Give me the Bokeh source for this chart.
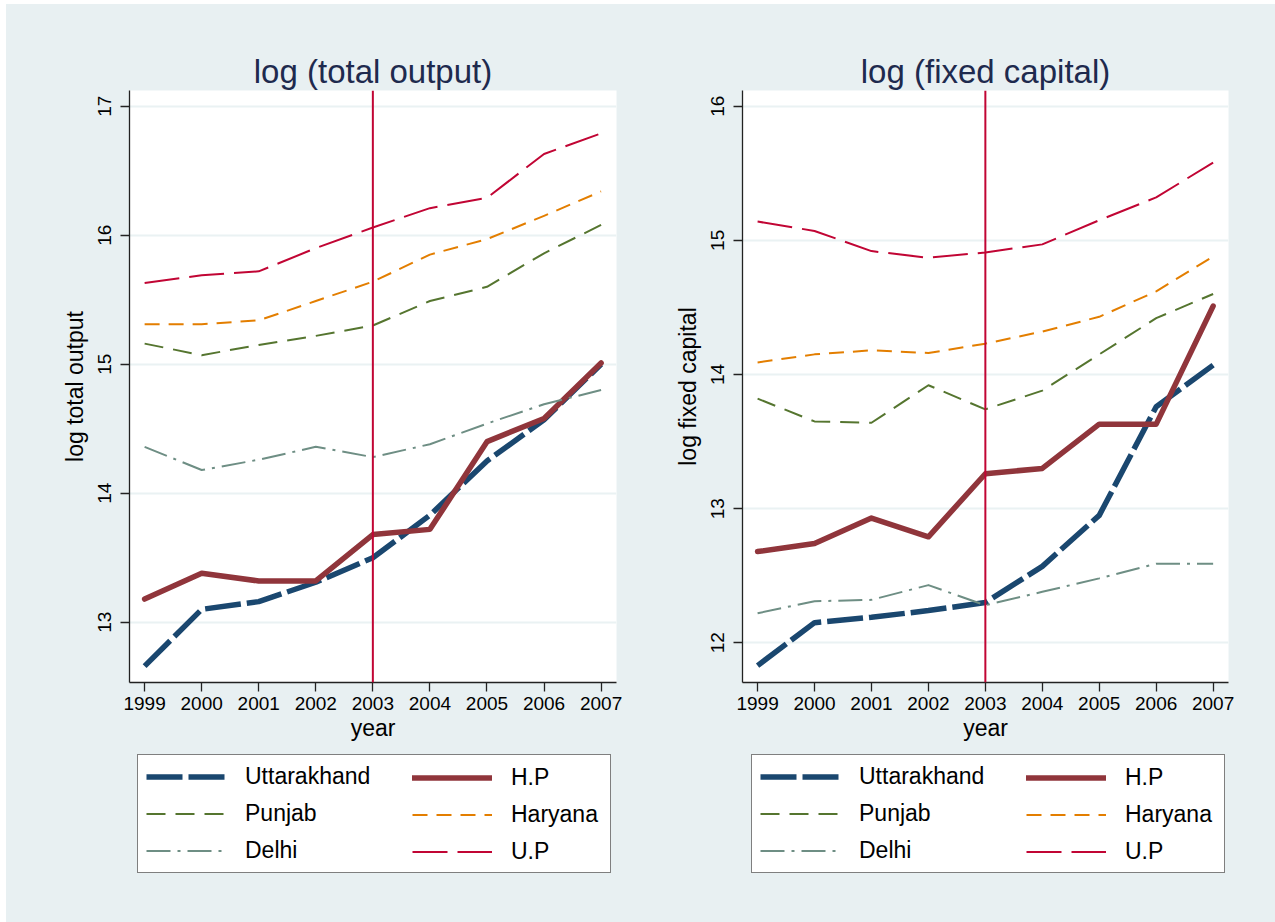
from bokeh.plotting import figure
from bokeh.layouts import row, column
from bokeh.models import Span, Legend, LegendItem, FixedTicker, Range1d
from bokeh.embed import file_html
from bokeh.resources import INLINE

# ---- data -----------------------------------------------------------------
years = [1999, 2000, 2001, 2002, 2003, 2004, 2005, 2006, 2007]
states = ["Uttarakhand", "H.P", "Punjab", "Haryana", "Delhi", "U.P"]

# log (total output)
output_uttarakhand = [12.66, 13.10, 13.16, 13.31, 13.50, 13.83, 14.25, 14.57, 15.00]
output_hp = [13.18, 13.38, 13.32, 13.32, 13.68, 13.72, 14.40, 14.58, 15.01]
output_punjab = [15.16, 15.07, 15.15, 15.22, 15.30, 15.49, 15.60, 15.86, 16.08]
output_haryana = [15.31, 15.31, 15.34, 15.49, 15.64, 15.85, 15.97, 16.15, 16.34]
output_delhi = [14.36, 14.18, 14.26, 14.36, 14.28, 14.38, 14.54, 14.69, 14.80]
output_up = [15.63, 15.69, 15.72, 15.90, 16.06, 16.21, 16.29, 16.63, 16.79]

# log (fixed capital)
capital_uttarakhand = [11.83, 12.15, 12.19, 12.24, 12.30, 12.57, 12.95, 13.76, 14.07]
capital_hp = [12.68, 12.74, 12.93, 12.79, 13.26, 13.30, 13.63, 13.63, 14.51]
capital_punjab = [13.82, 13.65, 13.64, 13.92, 13.74, 13.88, 14.15, 14.42, 14.60]
capital_haryana = [14.09, 14.15, 14.18, 14.16, 14.23, 14.32, 14.43, 14.62, 14.88]
capital_delhi = [12.22, 12.31, 12.32, 12.43, 12.28, 12.38, 12.48, 12.59, 12.59]
capital_up = [15.14, 15.07, 14.92, 14.87, 14.91, 14.97, 15.15, 15.32, 15.58]

output_ticks = [13, 14, 15, 16, 17]
capital_ticks = [12, 13, 14, 15, 16]
policy_year = 2003

# ---- styling --------------------------------------------------------------
FONT = "Liberation Sans"
BG = "#E8F0F2"
GRID = "#EAF2F3"

styles = {
    "Uttarakhand": dict(color="#1A476F", width=5.5, dash="36 6", cap="butt"),
    "H.P": dict(color="#90353B", width=5.5, dash="solid", cap="round"),
    "Punjab": dict(color="#55752F", width=2, dash="19 10", cap="butt"),
    "Haryana": dict(color="#E37E00", width=2, dash="15 9", cap="butt"),
    "Delhi": dict(color="#6E8E84", width=2, dash="24 7 3 7", cap="butt"),
    "U.P": dict(color="#C10534", width=2, dash="35 10", cap="butt"),
}

PLOT_H = 86 + 592 + 70      # figure height of each line chart
LEGEND_H = 918 - PLOT_H     # height of the strip holding the key
KEY_W = 472                 # outer width of the key box
KEY_COL2 = 275              # offset of the second key column inside the box
KEY_PAD = 8                 # inner padding of the key box
KEY_BOTTOM = 49             # gap between key box and strip bottom


def add_line(p, name, xs, ys):
    st = styles[name]
    return p.line(xs, ys, line_color=st["color"], line_width=st["width"],
                  line_dash=st["dash"], line_cap=st["cap"], line_join="round")


def make_panel(title, ylabel, series, y_range, y_ticks, border_left, border_right, frame_w):
    p = figure(
        frame_width=frame_w, frame_height=592,
        x_range=Range1d(1998.735, 2007.27), y_range=Range1d(*y_range),
        min_border_left=border_left, min_border_right=border_right,
        min_border_top=86, min_border_bottom=70,
        output_backend="svg", toolbar_location=None,
    )
    p.background_fill_color = "white"
    p.border_fill_color = BG
    p.outline_line_color = None

    p.title.text = title
    p.title.text_font = FONT
    p.title.text_font_size = "33px"
    p.title.text_font_style = "normal"
    p.title.text_color = "#1E2A4E"
    p.title.align = "center"
    p.title.standoff = 2

    for ax in (p.xaxis[0], p.yaxis[0]):
        ax.axis_line_color = "#222222"
        ax.axis_line_width = 1.3
        ax.major_tick_line_color = "#222222"
        ax.major_tick_line_width = 1.3
        ax.major_tick_in = 0
        ax.major_tick_out = 9
        ax.minor_tick_line_color = None
        ax.major_label_text_font = FONT
        ax.major_label_text_font_size = "19px"
        ax.major_label_text_color = "black"
        ax.axis_label_text_font = FONT
        ax.axis_label_text_font_size = "23px"
        ax.axis_label_text_font_style = "normal"
        ax.axis_label_text_color = "black"

    p.xaxis.ticker = FixedTicker(ticks=years)
    p.xaxis.axis_label = "year"
    p.xaxis.major_label_standoff = 5
    p.xaxis.axis_label_standoff = 2
    p.yaxis.ticker = FixedTicker(ticks=y_ticks)
    p.yaxis.axis_label = ylabel
    p.yaxis.major_label_orientation = "vertical"
    p.yaxis.major_label_standoff = 9
    p.yaxis.axis_label_standoff = 8

    p.xgrid.visible = False
    p.ygrid.grid_line_color = GRID
    p.ygrid.grid_line_width = 2

    for name, vals in zip(states, series):
        add_line(p, name, years, vals)

    p.add_layout(Span(location=policy_year, dimension="height",
                      line_color="#C10534", line_width=2))
    return p


def key_column(keys, names, x, y, boxed):
    opts = dict(
        items=[LegendItem(label=n, renderers=[keys[n]]) for n in names],
        location=(x, y),
        glyph_width=80, glyph_height=27, label_height=27,
        label_standoff=19, spacing=10, padding=KEY_PAD, margin=0,
        label_text_font=FONT, label_text_font_size="23px",
        label_text_color="black",
    )
    if boxed:
        # first column also draws the white box spanning both columns
        opts.update(label_width=KEY_W - 2 * KEY_PAD - 80 - 19,
                    border_line_color="black", border_line_width=1.5,
                    background_fill_color="white", background_fill_alpha=1.0)
    else:
        # a borderless legend gets no padding, so its offset includes it
        opts.update(border_line_color=None, background_fill_alpha=0.0)
    return Legend(**opts)


def make_key(fig_width, series, box_x):
    # strip under a chart carrying the two-column key; its lines reuse the
    # chart's series but fall outside this strip's ranges, so only the key
    # samples are visible
    lg = figure(
        width=fig_width, height=LEGEND_H,
        x_range=Range1d(0, 1), y_range=Range1d(0, 1),
        x_axis_location=None, y_axis_location=None,
        min_border=0, output_backend="svg", toolbar_location=None,
    )
    lg.background_fill_color = BG
    lg.border_fill_color = BG
    lg.outline_line_color = None
    lg.grid.visible = False
    keys = {name: add_line(lg, name, years, vals) for name, vals in zip(states, series)}
    lg.add_layout(key_column(keys, states[0::2], box_x, KEY_BOTTOM, True))
    lg.add_layout(key_column(keys, states[1::2], box_x + KEY_COL2,
                             KEY_BOTTOM + KEY_PAD, False))
    return lg


output_series = [output_uttarakhand, output_hp, output_punjab,
                 output_haryana, output_delhi, output_up]
capital_series = [capital_uttarakhand, capital_hp, capital_punjab,
                  capital_haryana, capital_delhi, capital_up]

left = make_panel("log (total output)", "log total output", output_series,
                  (12.533, 17.122), output_ticks, 123, 24, 487)
right = make_panel("log (fixed capital)", "log fixed capital", capital_series,
                   (11.704, 16.117), capital_ticks, 102, 47, 486)
left_key = make_key(634, output_series, 8)
right_key = make_key(635, capital_series, 9)

layout = row(column(left, left_key), column(right, right_key))
layout.styles = {"background-color": BG}
layout.margin = (4, 0, 0, 6)

with open("out.html", "w") as f:
    f.write(file_html(layout, INLINE))
